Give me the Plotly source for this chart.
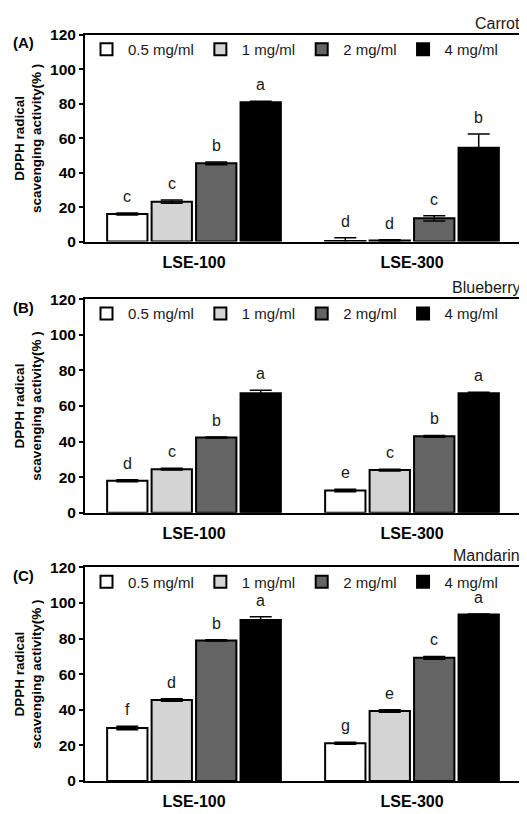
import plotly.graph_objects as go

# ---------------- data ----------------
groups = ["LSE-100", "LSE-300"]
concentrations = ["0.5 mg/ml", "1 mg/ml", "2 mg/ml", "4 mg/ml"]
bar_colors = ["#ffffff", "#d4d4d4", "#646464", "#000000"]

fruits = ["Carrot", "Blueberry", "Mandarin"]
panel_tags = ["(A)", "(B)", "(C)"]

# rows = concentration, columns = group (LSE-100, LSE-300)
carrot_mean = [[16.0, 0.3], [23.2, 0.6], [45.5, 13.5], [81.0, 54.5]]
carrot_err = [[0.6, 2.0], [0.9, 0.5], [0.8, 1.5], [0.5, 8.0]]
carrot_letters = [["c", "d"], ["c", "d"], ["b", "c"], ["a", "b"]]

blueberry_mean = [[18.0, 12.5], [24.5, 24.0], [42.3, 43.0], [67.2, 67.2]]
blueberry_err = [[0.5, 0.7], [0.5, 0.5], [0.3, 0.5], [1.6, 0.5]]
blueberry_letters = [["d", "e"], ["c", "c"], ["b", "b"], ["a", "a"]]

mandarin_mean = [[29.8, 21.2], [45.5, 39.3], [79.0, 69.2], [90.5, 93.5]]
mandarin_err = [[1.0, 0.6], [0.7, 0.7], [0.3, 0.8], [1.8, 0.4]]
mandarin_letters = [["f", "g"], ["d", "e"], ["b", "c"], ["a", "a"]]

y_ticks = [0, 20, 40, 60, 80, 100, 120]

means = [carrot_mean, blueberry_mean, mandarin_mean]
errs = [carrot_err, blueberry_err, mandarin_err]
letters = [carrot_letters, blueberry_letters, mandarin_letters]

# ---------------- layout geometry ----------------
PAGE_W, PAGE_H = 527, 814
BODY = 8                     # default page body margin around the figure div
W, H = PAGE_W - BODY, PAGE_H - BODY
AX_L, AX_R, AX_T, AX_B = 85, 523, 35, 786   # page-pixel extent of plot areas
ML, MR = AX_L - BODY, W - (AX_R - BODY)
MT, MB = AX_T - BODY, H - (AX_B - BODY)
PW, PH = W - ML - MR, H - MT - MB


def px_x(px):
    return (px - AX_L) / PW


def px_y(py):
    return (AX_B - py) / PH


panel_pix = [(35, 243), (301, 516), (571, 786)]  # top, bottom page pixel of each plot area
domains = [[px_y(b), px_y(t)] for t, b in panel_pix]

STEP = 0.204   # distance between bar centres within a group (x units)
BW = 0.185     # bar width (x units)
FONT = "Liberation Sans, Arial, Helvetica, sans-serif"

fig = go.Figure()
annotations = []

for p in range(3):
    xa = "x" if p == 0 else f"x{p+1}"
    ya = "y" if p == 0 else f"y{p+1}"
    lg = "legend" if p == 0 else f"legend{p+1}"
    for k, conc in enumerate(concentrations):
        xs = [g + (k - 1.5) * STEP for g in range(len(groups))]
        fig.add_trace(go.Bar(
            x=xs, y=means[p][k], width=BW, name=conc,
            marker=dict(color=bar_colors[k], line=dict(color="#000000", width=2)),
            error_y=dict(type="data", array=errs[p][k], visible=True,
                         color="#000000", thickness=1.5, width=11),
            xaxis=xa, yaxis=ya, legend=lg, showlegend=True,
        ))
        for g in range(len(groups)):
            annotations.append(dict(
                x=xs[g], y=means[p][k][g] + errs[p][k][g], xref=xa, yref=ya,
                text=letters[p][k][g], showarrow=False, yanchor="bottom",
                yshift=6, font=dict(family=FONT, size=16, color="#1a1a1a"),
            ))
    # panel tag and fruit name
    top_px = panel_pix[p][0]
    annotations.append(dict(
        x=px_x(11), y=px_y(top_px + 8), xref="paper", yref="paper",
        text=f"<b>{panel_tags[p]}</b>", showarrow=False, xanchor="left",
        yanchor="middle", font=dict(family=FONT, size=15, color="#000000"),
    ))
    annotations.append(dict(
        x=px_x(524), y=px_y(top_px - 12), xref="paper", yref="paper",
        text=fruits[p], showarrow=False, xanchor="right",
        yanchor="middle", font=dict(family=FONT, size=16, color="#1a1a1a"),
    ))

layout = dict(
    width=W, height=H,
    margin=dict(l=ML, r=MR, t=MT, b=MB),
    paper_bgcolor="white", plot_bgcolor="white",
    barmode="overlay",
    annotations=annotations,
    font=dict(family=FONT, color="#000000"),
)

for p in range(3):
    xkey = "xaxis" if p == 0 else f"xaxis{p+1}"
    ykey = "yaxis" if p == 0 else f"yaxis{p+1}"
    lkey = "legend" if p == 0 else f"legend{p+1}"
    ya = "y" if p == 0 else f"y{p+1}"
    xa = "x" if p == 0 else f"x{p+1}"
    layout[xkey] = dict(
        domain=[0, 1], anchor=ya, range=[-0.5, 1.5],
        tickvals=list(range(len(groups))), ticktext=groups,
        showline=True, linewidth=2, linecolor="#000000", mirror=True,
        showgrid=False, zeroline=False, ticks="outside", ticklen=5,
        tickcolor="rgba(0,0,0,0)",
        tickfont=dict(family=FONT, size=16, weight="bold", color="#000000"),
    )
    layout[ykey] = dict(
        domain=domains[p], anchor=xa, range=[0, 120],
        tickvals=y_ticks,
        showline=True, linewidth=2, linecolor="#000000", mirror=True,
        showgrid=False, zeroline=False, ticks="outside", ticklen=4,
        tickwidth=2, tickcolor="#000000",
        tickfont=dict(family=FONT, size=15.5, weight="bold", color="#000000"),
        title=dict(text="DPPH radical<br>scavenging activity(% )",
                   font=dict(family=FONT, size=13.5, weight="bold"),
                   standoff=5),
    )
    layout[lkey] = dict(
        orientation="h", x=0, xanchor="left",
        y=px_y(panel_pix[p][0] - 2), yanchor="top",
        bgcolor="rgba(0,0,0,0)", itemwidth=33,
        font=dict(family=FONT, size=15, color="#1a1a1a"),
        itemclick=False, itemdoubleclick=False,
    )

fig.update_layout(**layout)
fig.write_html("out.html")
